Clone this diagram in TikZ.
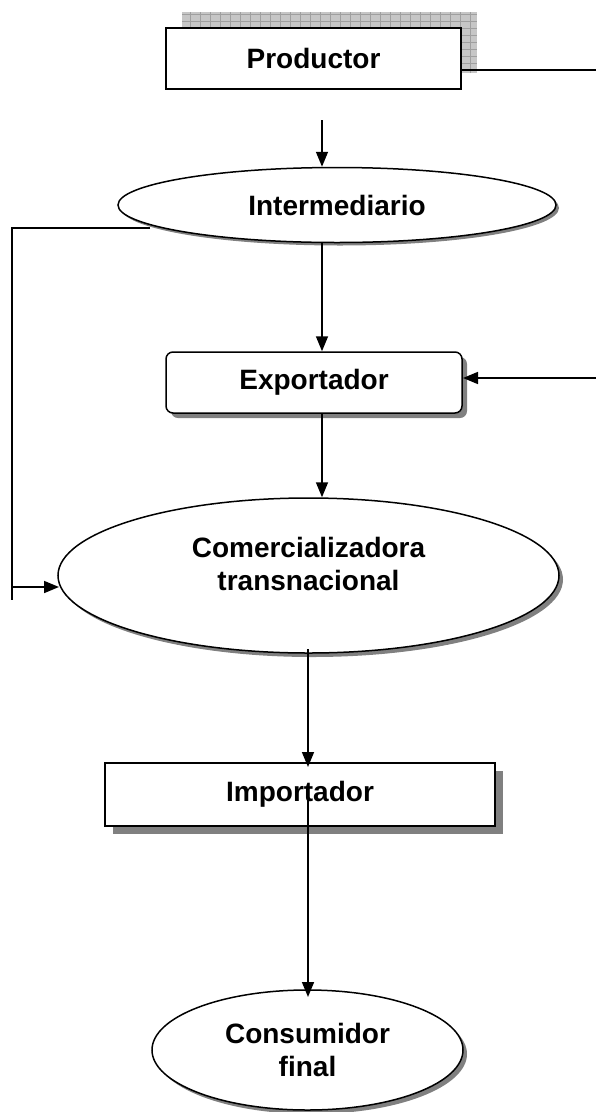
\documentclass[tikz,border=0pt]{standalone}
\usepackage{fontspec}
\setmainfont{Liberation Sans}
\usetikzlibrary{shapes.geometric,shadows,arrows.meta}

\begin{document}
\begin{tikzpicture}[x=1pt,y=-1pt,
    txt/.style={font=\fontsize{28}{33}\selectfont\bfseries, align=center},
    box/.style={draw, line width=1.5pt, fill=white, inner sep=0pt, txt},
    oval/.style={ellipse, draw, line width=1.5pt, fill=white, inner sep=0pt, txt},
    dshadow/.style={drop shadow={shadow xshift=#1, shadow yshift=-#1, fill=black!50, opacity=1}},
    line/.style={line width=1.6pt},
    arr/.style={line, -{Triangle[length=15pt,width=12pt]}}]
      \useasboundingbox (0,0) rectangle (596,1112);

      % Grid shadow behind Productor
      \fill[gray!45] (182,12) rectangle (477,73);
      \draw[gray!75, line width=0.6pt, xstep=10pt, ystep=7pt] (182,12) grid (477,73);

      % Draw boxes
      \node[box, line width=2.5pt, minimum width=295pt, minimum height=61pt] (prod) at (313.5,58.5) {Productor};
      \node[oval, dshadow=3pt, minimum width=438pt, minimum height=75pt] (inter) at (337,205) {Intermediario};
      \node[box, rounded corners=7pt, dshadow=5pt, minimum width=296pt, minimum height=61pt] (exp) at (314,382.5) {Exportador};
      \node[oval, dshadow=4pt, minimum width=501pt, minimum height=155pt] (com) at (308.5,575.5) {};
      \node[txt] (comtxt) at (308.5,563.5) {Comercializadora\\transnacional};
      \node[box, dshadow=8pt, minimum width=390pt, minimum height=63pt] (imp) at (300,794.5) {Importador};
      \node[oval, dshadow=4pt, minimum width=311pt, minimum height=120pt] (cons) at (307.5,1050) {Consumidor\\final};

      % Main chain
      \coordinate (a1) at (322,120);
      \draw[arr] (a1) -- (a1 |- inter.north);
      \draw[arr] (a1 |- inter.south) -- (a1 |- exp.north);
      \draw[arr] (a1 |- exp.south) -- (a1 |- com.north);

      \coordinate (a4) at (308,649);
      \coordinate (impIn) at (308,767);
      \draw[arr] (a4) -- (impIn);
      \coordinate (a5) at (308,793);
      \coordinate (consIn) at (308,997);
      \draw[arr] (a5) -- (consIn);

      % Left bypass
      \coordinate (inL) at (150,228);
      \coordinate (lTop) at (12,228);
      \coordinate (lBot) at (12,600);
      \coordinate (lArr) at (12,587);
      \coordinate (comL) at (59,587);
      \draw[line] (inL) -- (lTop) -- (lBot);
      \draw[arr] (lArr) -- (comL);

      % Right bypass
      \coordinate (prR) at (462,70);
      \coordinate (edgeA) at (596,70);
      \coordinate (edgeB) at (596,378);
      \coordinate (expR) at (463,378);
      \draw[line] (prR) -- (edgeA);
      \draw[arr] (edgeB) -- (expR);
    \end{tikzpicture}
\end{document}
